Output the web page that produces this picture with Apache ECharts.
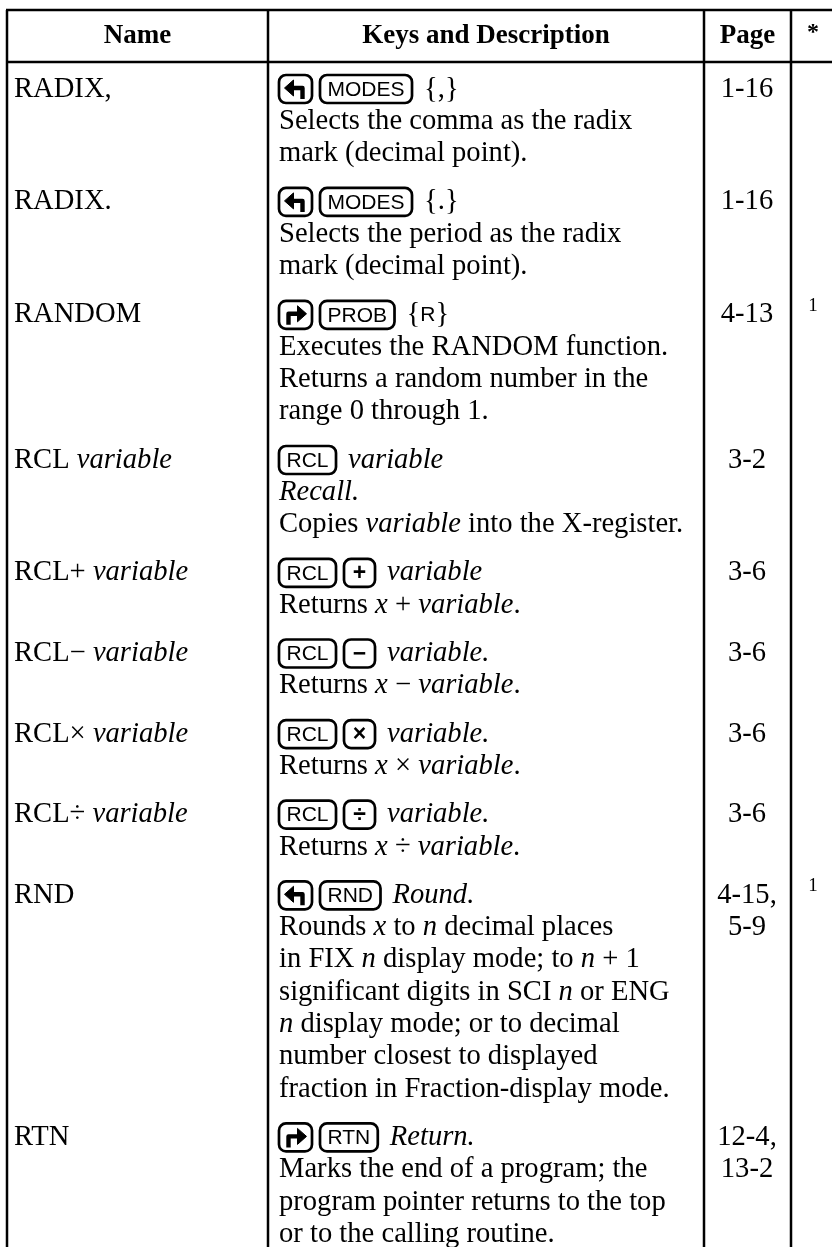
<!DOCTYPE html>
<html><head><meta charset="utf-8">
<script src="https://cdn.jsdelivr.net/npm/echarts@6/dist/echarts.min.js"></script>
<style>html,body{margin:0;padding:0;background:#fff}#c{width:832px;height:1247px}</style>
</head><body><div id="c"></div>
<script>
// ---------- data ----------
const headers = ['Name', 'Keys and Description', 'Page', '*'];
const names = ['RADIX,', 'RADIX.', 'RANDOM', 'RCL {i|variable}', 'RCL+ {i|variable}', 'RCL\u2212 {i|variable}', 'RCL\u00d7 {i|variable}', 'RCL\u00f7 {i|variable}', 'RND', 'RTN'];
const keyStrokes = [
  ['#LS', '#MODES', '{,}'],
  ['#LS', '#MODES', '{.}'],
  ['#RS', '#PROB', '{{s|R}}'],
  ['#RCL', '{i|variable}'],
  ['#RCL', '#+', '{i|variable}'],
  ['#RCL', '#\u2212', '{i|variable.}'],
  ['#RCL', '#\u00d7', '{i|variable.}'],
  ['#RCL', '#\u00f7', '{i|variable.}'],
  ['#LS', '#RND', '{i|Round.}'],
  ['#RS', '#RTN', '{i|Return.}']
];
const descriptions = [
  ['Selects the comma as the radix', 'mark (decimal point).'],
  ['Selects the period as the radix', 'mark (decimal point).'],
  ['Executes the RANDOM function.', 'Returns a random number in the', 'range 0 through 1.'],
  ['{i|Recall.}', 'Copies {i|variable} into the X-register.'],
  ['Returns {i|x} + {i|variable}.'],
  ['Returns {i|x} \u2212 {i|variable}.'],
  ['Returns {i|x} \u00d7 {i|variable}.'],
  ['Returns {i|x} \u00f7 {i|variable}.'],
  ['Rounds {i|x} to {i|n} decimal places', 'in FIX {i|n} display mode; to {i|n} + 1', 'significant digits in SCI {i|n} or ENG', '{i|n} display mode; or to decimal', 'number closest to displayed', 'fraction in Fraction-display mode.'],
  ['Marks the end of a program; the', 'program pointer returns to the top', 'or to the calling routine.']
];
const pages = [['1-16'], ['1-16'], ['4-13'], ['3-2'], ['3-6'], ['3-6'], ['3-6'], ['3-6'], ['4-15,', '5-9'], ['12-4,', '13-2']];
const notes = ['', '', '1', '', '', '', '', '', '1', ''];

// ---------- layout / style ----------
const W = 832, H = 1247;
const SERIF = '"Liberation Serif", "Times New Roman", serif';
const SANS = '"Liberation Sans", Arial, sans-serif';
const FS = 28.6, KFS = 21, HFS = 27;
const COLS = [7, 268, 704, 791];
const TOP = 10, HEAD = 62, HEAD_Y = 36;
const Y0 = 89, STEP = 32.3, GAP = 16;
const NAME_X = 14, KEY_X = 279, PAGE_X = 747, NOTE_X = 813;
const KH = 28, KGAP = 8, RULE = 2.5;

const starts = [];
(function () { let y = Y0; for (let i = 0; i < names.length; i++) { starts.push(y); y += (1 + descriptions[i].length) * STEP + GAP; } })();

const mctx = document.createElement('canvas').getContext('2d');
function tw(t, font) { mctx.font = font; return mctx.measureText(t).width; }

const rich = {
  i: { fontFamily: SERIF, fontSize: FS, fontStyle: 'italic', fill: '#000' },
  s: { fontFamily: SANS, fontSize: 21, fill: '#000' },
  r: { fontFamily: SERIF, fontSize: FS, fill: '#000' }
};
function txt(p, s, opt) {
  return { type: 'text', x: p[0], y: p[1], style: Object.assign({ text: s, fill: '#000', fontFamily: SERIF, fontSize: FS, align: 'left', verticalAlign: 'middle', rich: rich }, opt || {}) };
}

function shiftArrow(cx, cy, right) {
  const d = right ? 1 : -1;
  return [
    { type: 'polyline', shape: { points: [[cx - d * 7, cy + 10], [cx - d * 7, cy - 1], [cx + d * 3, cy - 1]] }, style: { stroke: '#000', lineWidth: 4.4, fill: null, lineJoin: 'round' } },
    { type: 'polygon', shape: { points: [[cx + d * 11, cy - 1], [cx + d * 2, cy - 9], [cx + d * 2, cy + 7]] }, style: { fill: '#000', stroke: '#000', lineWidth: 1, lineJoin: 'round' } }
  ];
}

function renderEntry(params, api) {
  const i = api.value(0);
  const y = starts[i];
  const P = (x, yy) => api.coord([x, yy]);
  const ch = [];
  ch.push(txt(P(NAME_X, y), names[i]));
  let x = KEY_X;
  keyStrokes[i].forEach(tok => {
    if (tok[0] === '#') {
      const k = tok.slice(1);
      let w;
      if (k === 'LS' || k === 'RS') w = 33;
      else if (k.length === 1) w = 31;
      else w = tw(k, KFS + 'px ' + SANS) + 15;
      const tl = P(x, y - KH / 2);
      const sz = api.size([w, KH]);
      ch.push({ type: 'rect', shape: { x: tl[0], y: tl[1], width: sz[0], height: sz[1], r: 7 }, style: { fill: '#fff', stroke: '#000', lineWidth: 2.7 } });
      const c = P(x + w / 2, y);
      if (k === 'LS' || k === 'RS') ch.push.apply(ch, shiftArrow(c[0], c[1], k === 'RS'));
      else ch.push(txt([c[0], c[1] + 1], k, { fontFamily: SANS, fontSize: k.length === 1 ? 23 : KFS, fontWeight: k.length === 1 ? 'bold' : 'normal', align: 'center' }));
      x += w + KGAP;
    } else {
      ch.push(txt(P(x + 4, y), tok));
    }
  });
  descriptions[i].forEach((line, j) => ch.push(txt(P(KEY_X, y + (j + 1) * STEP), line)));
  pages[i].forEach((pg, j) => ch.push(txt(P(PAGE_X, y + j * STEP), pg, { align: 'center' })));
  if (notes[i]) ch.push(txt(P(NOTE_X, y - 9), notes[i], { align: 'center', fontSize: 19 }));
  return { type: 'group', children: ch };
}

function renderFrame(params, api) {
  if (api.value(0) !== 0) return null;
  const P = (x, yy) => api.coord([x, yy]);
  const ch = [];
  const line = (a, b) => ch.push({ type: 'line', shape: { x1: a[0], y1: a[1], x2: b[0], y2: b[1] }, style: { stroke: '#000', lineWidth: RULE } });
  line(P(COLS[0] - 1, TOP), P(W, TOP));
  line(P(COLS[0] - 1, HEAD), P(W, HEAD));
  COLS.forEach(cx => line(P(cx, TOP), P(cx, H)));
  const centers = [(COLS[0] + COLS[1]) / 2, (COLS[1] + COLS[2]) / 2, (COLS[2] + COLS[3]) / 2, NOTE_X];
  headers.forEach((h, j) => ch.push(txt(P(centers[j], j === 3 ? HEAD_Y - 3 : HEAD_Y), h, { align: 'center', fontWeight: 'bold', fontSize: j === 3 ? 24 : HFS })));
  return { type: 'group', children: ch };
}

const chart = echarts.init(document.getElementById('c'), null, { renderer: 'canvas' });
chart.setOption({
  animation: false,
  backgroundColor: '#fff',
  grid: { left: 0, right: 0, top: 0, bottom: 0 },
  xAxis: { type: 'value', min: 0, max: W, show: false },
  yAxis: { type: 'value', min: 0, max: H, inverse: true, show: false },
  series: [
    { type: 'custom', coordinateSystem: 'cartesian2d', renderItem: renderFrame, data: [[0]], silent: true },
    { type: 'custom', coordinateSystem: 'cartesian2d', renderItem: renderEntry, data: names.map((n, i) => [i]), silent: true }
  ]
});
</script></body></html>
